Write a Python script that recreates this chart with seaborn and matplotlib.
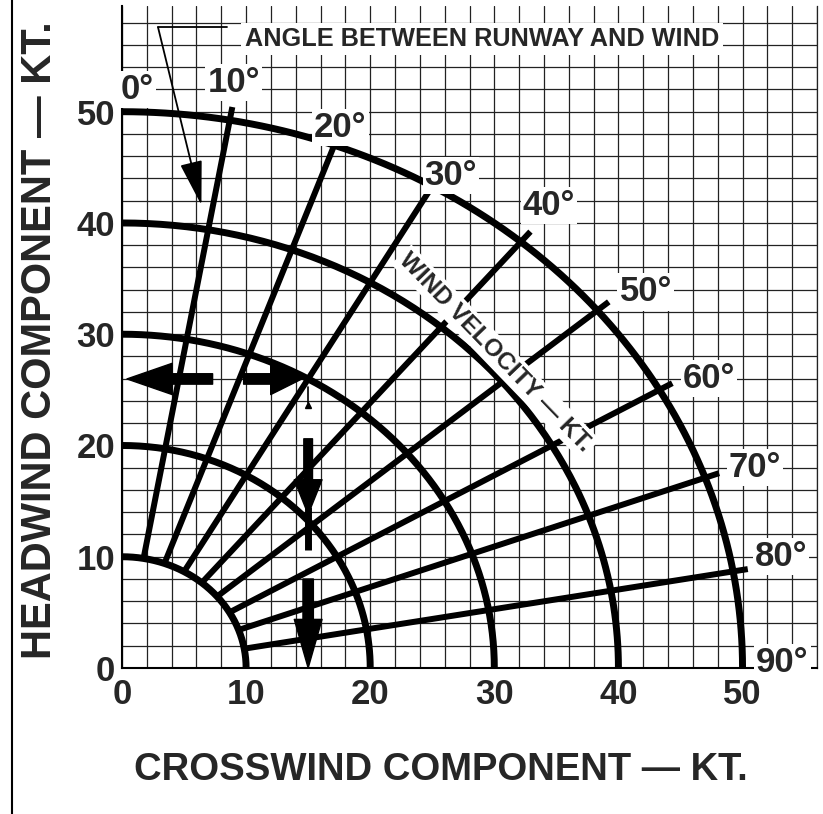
import numpy as np
import pandas as pd
import seaborn as sns
import matplotlib.pyplot as plt
from matplotlib.lines import Line2D

# values
wind_speeds = [10, 20, 30, 40, 50]
runway_angles = [10, 20, 30, 40, 50, 60, 70, 80]
ray_end = 51.2
angle_labels = ["0°", "10°", "20°", "30°", "40°", "50°", "60°", "70°", "80°", "90°"]
label_x = [1.2, 9.0, 17.6, 26.5, 34.4, 42.2, 47.3, 51.0, 53.1, 53.2]
label_y = [52.0, 52.6, 48.6, 44.3, 41.6, 33.8, 26.0, 18.0, 10.0, 0.5]
axis_ticks = [0, 10, 20, 30, 40, 50]

# worked example: 30 kt wind, 30 deg off the runway
example_speed = 30
example_angle = 30

sns.set_style("white")
plt.rcParams["font.family"] = ["Liberation Sans", "DejaVu Sans"]
plt.rcParams["font.weight"] = "bold"

theta = np.linspace(0, 90, 181)
arcs = pd.DataFrame([
    {"speed": v, "cross": v * np.sin(np.radians(t)), "head": v * np.cos(np.radians(t))}
    for v in wind_speeds for t in theta
])
rays = pd.DataFrame([
    {"angle": a, "cross": r * np.sin(np.radians(a)), "head": r * np.cos(np.radians(a))}
    for a in runway_angles for r in (wind_speeds[0], ray_end)
])

fig = plt.figure(figsize=(8.23, 8.14), dpi=100)
ax = fig.add_axes([122 / 823, 1 - 668 / 814, (817 - 122) / 823, (668 - 6) / 814])

sns.lineplot(data=arcs, x="cross", y="head", units="speed", estimator=None, sort=False,
             color="black", lw=5, ax=ax, legend=False, zorder=3)
sns.lineplot(data=rays, x="cross", y="head", units="angle", estimator=None, sort=False,
             color="black", lw=4.3, ax=ax, legend=False, zorder=3, solid_capstyle="butt")

ax.set_xlim(0, 56)
ax.set_ylim(0, 59.5)
ax.set_xticks(axis_ticks)
ax.set_yticks(axis_ticks)
ax.set_xticks(np.arange(0, 57, 2), minor=True)
ax.set_yticks(np.arange(0, 59, 2), minor=True)
ax.grid(which="both", color="#222222", lw=0.9)
ax.set_axisbelow(True)
ax.tick_params(which="both", length=0)
ax.tick_params(axis="x", pad=7, labelsize=25)
ax.tick_params(axis="y", pad=5, labelsize=25)
ax.set_xlabel("")
ax.set_ylabel("")
for s in ["left", "bottom"]:
    ax.spines[s].set_color("black")
    ax.spines[s].set_linewidth(1.5)
ax.spines["top"].set_visible(False)
ax.spines["right"].set_color("#222222")
ax.spines["right"].set_linewidth(0.9)

# angle labels
for txt, x, y in zip(angle_labels, label_x, label_y):
    ax.text(x, y, txt, fontsize=25, fontweight="bold", ha="center", va="center", zorder=5,
            bbox=dict(facecolor="white", edgecolor="none", pad=1.5), clip_on=False)

ax.text(30.1, 28.4, "WIND VELOCITY — KT.", fontsize=17.5, fontweight="bold", rotation=-46,
        rotation_mode="anchor", ha="center", va="center", zorder=5,
        bbox=dict(facecolor="white", edgecolor="none", pad=2))

ax.text(9.9, 56.5, "ANGLE BETWEEN RUNWAY AND WIND", fontsize=18.2, fontweight="bold",
        ha="left", va="center", zorder=5,
        bbox=dict(facecolor="white", edgecolor="none", pad=3))
ax.plot([8.5, 2.9], [57.6, 57.6], color="black", lw=1.3, zorder=5)
ax.annotate("", xy=(6.4, 41.6), xytext=(2.9, 57.6),
            arrowprops=dict(arrowstyle="-|>,head_length=2.0,head_width=0.5", mutation_scale=14,
                            lw=1.3, color="black", shrinkA=0, shrinkB=0), zorder=5)

# example arrows
cross_ex = example_speed * np.sin(np.radians(example_angle))
head_ex = example_speed * np.cos(np.radians(example_angle))

ax.annotate("", xy=(0.4, head_ex), xytext=(7.3, head_ex),
            arrowprops=dict(arrowstyle="simple,head_length=1.3,head_width=0.9,tail_width=0.3",
                            mutation_scale=25, color="black", shrinkA=0, shrinkB=0), zorder=4)
ax.annotate("", xy=(cross_ex - 0.5, head_ex), xytext=(9.8, head_ex),
            arrowprops=dict(arrowstyle="simple,head_length=0.9,head_width=0.9,tail_width=0.3",
                            mutation_scale=25, color="black", shrinkA=0, shrinkB=0), zorder=4)
ax.plot([cross_ex, cross_ex], [head_ex - 0.7, head_ex - 2.2], color="black", lw=1.2, zorder=4)
ax.plot([cross_ex], [head_ex - 2.3], marker="^", ms=5, color="black", zorder=4)
ax.annotate("", xy=(cross_ex, 13.8), xytext=(cross_ex, 20.6),
            arrowprops=dict(arrowstyle="simple,head_length=1.0,head_width=0.8,tail_width=0.25",
                            mutation_scale=25, color="black", shrinkA=0, shrinkB=0), zorder=4)
ax.plot([cross_ex, cross_ex], [14.5, 10.6], color="black", lw=5, solid_capstyle="butt", zorder=4)
ax.annotate("", xy=(cross_ex, 0), xytext=(cross_ex, 8),
            arrowprops=dict(arrowstyle="simple,head_length=1.4,head_width=0.8,tail_width=0.3",
                            mutation_scale=25, color="black", shrinkA=0, shrinkB=0), zorder=4)

fig.text(441 / 823, 1 - 770 / 814, "CROSSWIND COMPONENT — KT.", fontsize=27.5,
         fontweight="bold", ha="center", va="center")
fig.text(40 / 823, 1 - 340 / 814, "HEADWIND COMPONENT — KT.", fontsize=30,
         fontweight="bold", ha="center", va="center", rotation=90)
fig.add_artist(Line2D([12 / 823, 12 / 823], [0, 1], transform=fig.transFigure,
                      color="black", lw=1.5))

fig.savefig("out.png", dpi=100, facecolor="white")
